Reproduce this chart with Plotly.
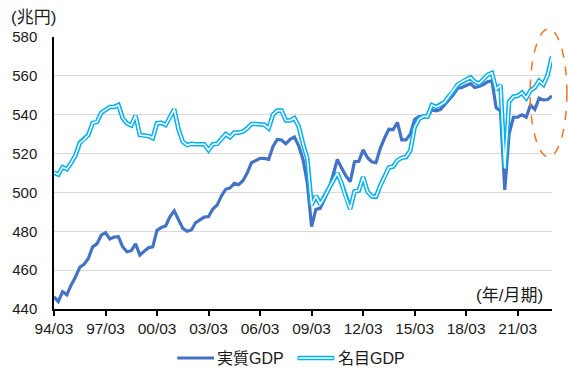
import plotly.graph_objects as go

tick_labels = ["94/03", "97/03", "00/03", "03/03", "06/03", "09/03", "12/03", "15/03", "18/03", "21/03"]
tick_positions = [0, 12, 24, 36, 48, 60, 72, 84, 96, 108]

real_gdp = [
    446.3, 443.8, 448.9, 447.3, 452.4, 456.5, 461.5, 463.0, 466.0, 472.0,
    473.5, 478.0, 479.3, 476.0, 477.0, 477.2, 472.0, 469.5, 470.0, 473.5,
    467.8, 469.5, 471.5, 472.0, 480.5, 482.0, 482.7, 487.5, 490.5, 486.0,
    481.5, 480.0, 480.7, 484.5, 485.8, 487.3, 487.6, 491.5, 493.5, 498.2,
    501.6, 502.3, 504.7, 504.0, 506.0, 510.0, 515.3, 516.5, 517.5, 517.5,
    517.0, 523.6, 527.3, 527.0, 525.0, 527.3, 528.5, 524.0, 517.0, 505.0,
    482.4, 491.3, 491.8, 496.5, 501.3, 509.0, 517.0, 512.5, 508.5, 505.5,
    515.8, 516.0, 522.0, 518.0, 515.8, 515.3, 522.7, 528.0, 532.5, 532.3,
    536.0, 527.0, 527.0, 530.0, 537.5, 539.0, 539.0, 539.0, 542.4, 542.0,
    542.6, 545.0, 547.8, 550.2, 553.6, 554.0, 555.0, 556.0, 554.0, 554.5,
    555.5, 557.0, 557.5, 543.5, 542.0, 501.3, 530.0, 538.7, 538.7, 539.9,
    538.7, 545.0, 542.8, 548.5, 547.6, 547.8, 549.6,
]

nominal_gdp = [
    510.2, 509.2, 513.0, 512.0, 515.3, 519.0, 525.5, 527.2, 529.6, 535.8,
    536.3, 541.0, 542.5, 544.0, 544.0, 545.0, 538.2, 535.5, 534.5, 539.5,
    529.6, 529.3, 529.0, 528.0, 535.6, 535.8, 534.7, 538.7, 542.8, 532.5,
    526.1, 524.4, 525.0, 524.8, 524.8, 524.8, 521.8, 524.8, 525.0, 527.3,
    530.0, 528.4, 530.8, 530.8, 531.3, 533.0, 535.2, 535.2, 535.0, 534.8,
    533.0, 540.0, 542.1, 542.1, 537.0, 537.0, 538.2, 534.0, 525.0, 517.5,
    493.5, 498.2, 494.0, 497.5, 502.0, 506.0, 510.0, 504.5, 497.0, 491.5,
    500.5, 501.0, 508.0, 500.5, 498.0, 497.8, 503.5, 508.0, 512.8, 513.3,
    516.5, 517.8, 518.2, 521.6, 533.5, 537.7, 539.2, 539.0, 545.0, 544.0,
    545.0, 546.5, 549.5, 552.0, 555.5, 557.0, 558.0, 559.2, 557.0, 556.0,
    558.2, 560.5, 561.5, 553.0, 555.3, 512.4, 546.7, 549.3, 549.7, 551.3,
    548.5, 552.5, 554.0, 557.5, 555.5, 560.5, 570.0,
]

series_names = ["実質GDP", "名目GDP"]

REAL_COLOR = "#4472C4"
NOM_COLOR = "#00B0F0"
FONT = "Arial, 'Liberation Sans', 'Noto Sans CJK JP', sans-serif"
TXT = "#1a1a1a"

x = list(range(len(real_gdp)))

fig = go.Figure()
fig.add_trace(go.Scatter(x=x, y=real_gdp, mode="lines", name=series_names[0],
                         line=dict(color=REAL_COLOR, width=3.2), showlegend=False))
fig.add_trace(go.Scatter(x=x, y=nominal_gdp, mode="lines", name=series_names[1],
                         line=dict(color=NOM_COLOR, width=4.6), showlegend=False))
fig.add_trace(go.Scatter(x=x, y=nominal_gdp, mode="lines", name=series_names[1] + " inner",
                         line=dict(color="white", width=1.6), showlegend=False,
                         hoverinfo="skip"))

L, R, T, B = 51, 16, 37, 60
W, H = 568, 369
pw, ph = W - L - R, H - T - B

def px(xp):
    return (xp - L) / pw

def py(yp):
    return (H - B - yp) / ph

shapes = []
# manual legend
ly = py(358)
shapes.append(dict(type="line", xref="paper", yref="paper", x0=px(175), x1=px(212), y0=ly, y1=ly,
                   line=dict(color=REAL_COLOR, width=3.2)))
shapes.append(dict(type="line", xref="paper", yref="paper", x0=px(296), x1=px(333), y0=ly, y1=ly,
                   line=dict(color=NOM_COLOR, width=4.6)))
shapes.append(dict(type="line", xref="paper", yref="paper", x0=px(297), x1=px(332), y0=ly, y1=ly,
                   line=dict(color="white", width=1.6)))
# orange dashed ellipse
shapes.append(dict(type="circle", xref="paper", yref="paper", x0=px(530), x1=px(567), y0=py(157), y1=py(29),
                   line=dict(color="#ED7D31", width=1.6, dash="dash")))

annotations = [
    dict(text=series_names[0], xref="paper", yref="paper", x=px(213), y=ly, xanchor="left", yanchor="middle",
         showarrow=False, font=dict(size=16, color=TXT, family=FONT)),
    dict(text=series_names[1], xref="paper", yref="paper", x=px(335), y=ly, xanchor="left", yanchor="middle",
         showarrow=False, font=dict(size=16, color=TXT, family=FONT)),
    dict(text="(兆円)", xref="paper", yref="paper", x=px(6), y=py(17), xanchor="left", yanchor="middle",
         showarrow=False, font=dict(size=17, color=TXT, family=FONT)),
    dict(text="(年/月期)", xref="paper", yref="paper", x=px(545), y=py(295), xanchor="right", yanchor="middle",
         showarrow=False, font=dict(size=17, color=TXT, family=FONT)),
]

fig.update_layout(
    width=W, height=H,
    margin=dict(l=L, r=R, t=T, b=B),
    paper_bgcolor="white", plot_bgcolor="white",
    shapes=shapes, annotations=annotations,
    font=dict(family=FONT, color=TXT, size=14),
    showlegend=False,
)
fig.update_xaxes(range=[0, len(real_gdp) - 1], tickmode="array", tickvals=tick_positions, ticktext=tick_labels,
                 showgrid=False, zeroline=False, showline=True, linecolor="black", linewidth=1.5,
                 ticks="outside", ticklen=5, tickcolor="black", tickwidth=1.5,
                 tickfont=dict(size=15.5, color=TXT, family=FONT))
fig.update_yaxes(range=[440, 580], dtick=20, showgrid=True, gridcolor="#D9D9D9", gridwidth=1,
                 zeroline=False, showline=True, linecolor="black", linewidth=1.5, ticks="",
                 ticklabelstandoff=12, tickfont=dict(size=15, color=TXT, family=FONT))

fig.write_html("out.html")
